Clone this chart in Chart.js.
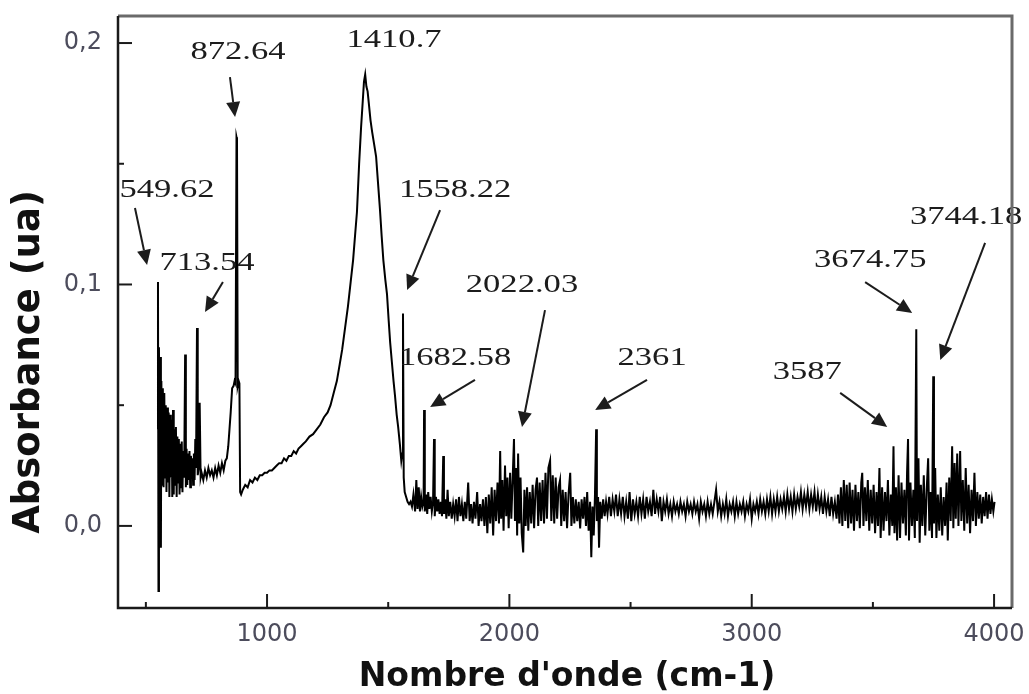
<!DOCTYPE html>
<html>
<head>
<meta charset="utf-8">
<script src="https://cdn.jsdelivr.net/npm/chart.js@4.4.1/dist/chart.umd.min.js"></script>
<style>
  html, body { margin: 0; padding: 0; background: #fff; }
  #wrap { width: 1029px; height: 694px; }
</style>
</head>
<body>
<div id="wrap"><canvas id="spectre" width="1029" height="694"></canvas></div>
<script>
// IR spectrum, wavenumber (cm-1) / absorbance (ua)
var wavenumber = [
  548, 550, 552, 554, 557, 560, 562, 564, 567, 570,
  573, 576, 579, 582, 585, 588, 591, 594, 597, 600,
  603, 606, 609, 612, 615, 618, 621, 624, 627, 630,
  633, 636, 639, 642, 645, 648, 651, 654, 658, 662,
  665, 668, 671, 674, 677, 680, 683, 686, 689, 692,
  695, 698, 701, 704, 707, 711, 714, 718, 722, 726,
  730, 737, 744, 751, 758, 765, 772, 779, 786, 793,
  800, 807, 814, 821, 828, 834, 840, 845, 850, 856,
  862, 866, 870, 874, 876, 879, 883, 886, 889, 893,
  900, 910, 920, 930, 940, 950, 960, 970, 980, 990,
  1000, 1010, 1020, 1030, 1040, 1050, 1060, 1070, 1080, 1090,
  1100, 1110, 1120, 1130, 1140, 1150, 1160, 1175, 1190, 1205,
  1220, 1235, 1250, 1262, 1275, 1288, 1300, 1310, 1322, 1334,
  1345, 1355, 1363, 1371, 1380, 1388, 1395, 1400, 1405, 1410,
  1415, 1420, 1427, 1434, 1442, 1450, 1458, 1466, 1473, 1480,
  1488, 1495, 1502, 1508, 1515, 1522, 1528, 1535, 1541, 1548,
  1554, 1558, 1561, 1564, 1568, 1574, 1580, 1586, 1592, 1598,
  1604, 1611, 1616, 1621, 1626, 1631, 1636, 1641, 1646, 1648,
  1651, 1656, 1661, 1665, 1670, 1675, 1680, 1685, 1689, 1692,
  1697, 1702, 1707, 1712, 1717, 1722, 1727, 1730, 1735, 1740,
  1745, 1750, 1756, 1762, 1768, 1774, 1780, 1786, 1792, 1798,
  1804, 1810, 1816, 1822, 1830, 1836, 1842, 1848, 1854, 1860,
  1867, 1873, 1879, 1885, 1891, 1897, 1903, 1909, 1915, 1921,
  1927, 1933, 1939, 1945, 1951, 1957, 1962, 1966, 1971, 1976,
  1982, 1987, 1992, 1997, 2003, 2008, 2013, 2019, 2023, 2028,
  2032, 2036, 2041, 2046, 2051, 2057, 2062, 2067, 2073, 2078,
  2084, 2090, 2096, 2102, 2108, 2114, 2119, 2125, 2131, 2137,
  2143, 2149, 2155, 2161, 2168, 2173, 2179, 2185, 2191, 2197,
  2203, 2209, 2214, 2220, 2226, 2232, 2238, 2244, 2251, 2256,
  2262, 2268, 2274, 2280, 2286, 2292, 2298, 2304, 2310, 2316,
  2321, 2327, 2333, 2338, 2343, 2348, 2353, 2358, 2361, 2366,
  2370, 2375, 2381, 2387, 2393, 2399,
  2405, 2412, 2419, 2426, 2433, 2440, 2447, 2454, 2461, 2468,
  2475, 2482, 2489, 2496, 2503, 2510, 2517, 2524, 2531, 2538,
  2545, 2552, 2559, 2566, 2573, 2580, 2587, 2594, 2601, 2608,
  2615, 2622, 2629, 2636, 2643, 2650, 2657, 2664, 2671, 2678,
  2685, 2692, 2699, 2706, 2713, 2720, 2727, 2734, 2741, 2748,
  2755, 2762, 2769, 2776, 2783, 2790, 2797, 2804, 2811, 2818,
  2825, 2832, 2839, 2846, 2853, 2860, 2867, 2874, 2881, 2888,
  2895, 2902, 2909, 2916, 2923, 2930, 2937, 2944, 2951, 2958,
  2965, 2972, 2979, 2986, 2993, 3000, 3007, 3014, 3021, 3028,
  3035, 3042, 3049, 3056, 3063, 3070, 3077, 3084, 3091, 3098,
  3105, 3112, 3119, 3126, 3133, 3140, 3147, 3154, 3161, 3168,
  3175, 3182, 3189, 3196, 3203, 3210, 3217, 3224, 3231, 3238,
  3245, 3252, 3259, 3266, 3273, 3280, 3287, 3294, 3301, 3308,
  3315, 3322, 3329, 3336, 3343,
  3350, 3356, 3362, 3368, 3374, 3380, 3386, 3392, 3398, 3404,
  3410, 3416, 3422, 3428, 3434, 3440, 3446, 3452, 3456, 3461,
  3467, 3473, 3479, 3485, 3491, 3497, 3503, 3509, 3515, 3521,
  3527, 3532, 3538, 3544, 3550, 3556, 3562, 3568, 3574, 3580,
  3585, 3589, 3595, 3600, 3606, 3612, 3618, 3624, 3630, 3636,
  3641, 3645, 3649, 3655, 3661, 3667, 3673, 3679, 3682, 3688,
  3693, 3698, 3704, 3710, 3716, 3722, 3728, 3733, 3738, 3744,
  3749, 3752, 3757, 3762, 3768, 3774, 3780, 3786, 3792, 3798,
  3804, 3809, 3815, 3821, 3827, 3832, 3837, 3842, 3848, 3853,
  3860, 3865, 3871, 3877, 3883, 3889, 3895, 3901, 3907, 3913,
  3919, 3925, 3931, 3937, 3943, 3949, 3955, 3961, 3967, 3973,
  3979, 3985, 3991, 3997, 4002
];

var absorbance = [
  0.040, 0.101, -0.027, 0.074, 0.022, 0.070, -0.009, 0.060, 0.017, 0.057,
  0.016, 0.055, 0.020, 0.050, 0.014, 0.049, 0.018, 0.047, 0.012, 0.046,
  0.020, 0.044, 0.012, 0.048, 0.013, 0.040, 0.017, 0.041, 0.012, 0.037,
  0.018, 0.036, 0.013, 0.034, 0.016, 0.035, 0.014, 0.031, 0.020, 0.071,
  0.016, 0.032, 0.017, 0.030, 0.019, 0.031, 0.016, 0.029, 0.020, 0.028,
  0.017, 0.030, 0.019, 0.036, 0.024, 0.082, 0.021, 0.024, 0.051, 0.020,
  0.022, 0.019, 0.023, 0.020, 0.024, 0.021, 0.023, 0.020, 0.024, 0.021,
  0.025, 0.022, 0.026, 0.023, 0.027, 0.028, 0.033, 0.040, 0.047, 0.057,
  0.058, 0.060, 0.059, 0.161, 0.160, 0.058, 0.060, 0.059, 0.014, 0.013,
  0.015, 0.017, 0.016, 0.019, 0.018, 0.020, 0.019, 0.021, 0.021, 0.022,
  0.022, 0.023, 0.023, 0.024, 0.025, 0.026, 0.026, 0.028, 0.027, 0.029,
  0.029, 0.031, 0.030, 0.032, 0.033, 0.034, 0.035, 0.037, 0.038, 0.040,
  0.042, 0.045, 0.047, 0.050, 0.055, 0.060, 0.067, 0.073, 0.082, 0.091,
  0.101, 0.110, 0.120, 0.130, 0.150, 0.165, 0.176, 0.184, 0.187, 0.182,
  0.180, 0.175, 0.168, 0.163, 0.158, 0.153, 0.142, 0.131, 0.120, 0.110,
  0.102, 0.096, 0.085, 0.076, 0.068, 0.060, 0.054, 0.046, 0.041, 0.034,
  0.027, 0.030, 0.088, 0.020, 0.014, 0.012, 0.010, 0.009, 0.010, 0.008,
  0.013, 0.006, 0.019, 0.007, 0.016, 0.006, 0.012, 0.008, 0.010, 0.048,
  0.006, 0.013, 0.005, 0.014, 0.007, 0.012, 0.006, 0.010, 0.036, 0.004,
  0.012, 0.006, 0.011, 0.005, 0.010, 0.004, 0.029, 0.005, 0.011, 0.003,
  0.015, 0.004, 0.010, 0.003, 0.009, 0.004, 0.011, 0.002, 0.012, 0.004,
  0.009, 0.002, 0.010, 0.003, 0.018, 0.002, 0.009, 0.001, 0.010, 0.003,
  0.014, 0.000, 0.009, 0.002, 0.011, 0.000, 0.012, -0.003, 0.013, 0.001,
  0.016, -0.004, 0.015, 0.002, 0.018, 0.001, 0.031, 0.003, 0.019, -0.002,
  0.025, 0.004, 0.020, -0.001, 0.022, 0.003, 0.018, 0.036, 0.002, 0.024,
  -0.004, 0.030, 0.001, 0.020, -0.003, -0.011, 0.015, 0.000, 0.016, -0.002,
  0.014, 0.001, 0.017, -0.001, 0.015, 0.020, 0.000, 0.018, 0.002, 0.019,
  0.001, 0.022, 0.003, 0.024, 0.027, 0.002, 0.021, 0.001, 0.020, 0.003,
  0.016, 0.019, 0.000, 0.015, 0.002, 0.014, -0.001, 0.013, 0.022, 0.000,
  0.012, 0.001, 0.011, 0.002, 0.010, -0.001, 0.011, 0.003, 0.012, 0.000,
  0.014, -0.002, 0.010, -0.013, 0.008, -0.004, 0.012, 0.040, 0.002, 0.012,
  -0.009, 0.010, 0.003, 0.011, 0.004, 0.010,
  0.005, 0.012, 0.004, 0.011, 0.006, 0.013, 0.004, 0.011, 0.005, 0.012,
  0.004, 0.010, 0.003, 0.014, 0.002, 0.011, 0.005, 0.010, 0.004, 0.012,
  0.005, 0.011, 0.003, 0.012, 0.006, 0.010, 0.004, 0.015, 0.005, 0.011,
  0.006, 0.012, 0.002, 0.010, 0.006, 0.011, 0.005, 0.009, 0.004, 0.010,
  0.006, 0.009, 0.005, 0.010, 0.006, 0.009, 0.004, 0.010, 0.006, 0.009,
  0.005, 0.010, 0.006, 0.009, 0.003, 0.010, 0.006, 0.009, 0.004, 0.010,
  0.005, 0.009, 0.005, 0.010, 0.015, 0.006, 0.010, 0.004, 0.009, 0.005,
  0.011, 0.004, 0.009, 0.006, 0.010, 0.004, 0.010, 0.005, 0.009, 0.006,
  0.010, 0.004, 0.009, 0.006, 0.011, 0.003, 0.009, 0.006, 0.010, 0.005,
  0.011, 0.006, 0.010, 0.005, 0.011, 0.006, 0.012, 0.005, 0.011, 0.006,
  0.012, 0.006, 0.011, 0.007, 0.012, 0.006, 0.013, 0.007, 0.012, 0.006,
  0.013, 0.007, 0.012, 0.008, 0.014, 0.007, 0.013, 0.008, 0.014, 0.007,
  0.013, 0.008, 0.014, 0.006, 0.013, 0.007, 0.012, 0.005, 0.012, 0.006,
  0.011, 0.004, 0.012, 0.005, 0.010,
  0.003, 0.013, 0.001, 0.016, 0.000, 0.019, 0.002, 0.017, -0.001, 0.018,
  0.001, 0.015, -0.002, 0.017, 0.002, 0.014, -0.001, 0.018, 0.022, 0.000,
  0.016, 0.002, 0.019, -0.002, 0.015, 0.001, 0.017, -0.003, 0.014, 0.000,
  0.024, -0.005, 0.016, -0.002, 0.014, 0.002, 0.019, -0.004, 0.013, 0.000,
  0.033, -0.003, 0.016, -0.006, 0.021, -0.005, 0.018, 0.001, 0.015, -0.004,
  0.022, 0.036, -0.006, 0.018, 0.000, 0.015, -0.005, 0.0815, 0.002, 0.028,
  -0.007, 0.017, 0.000, 0.021, -0.004, 0.015, 0.028, -0.002, 0.014, -0.005,
  0.062, 0.001, 0.024, -0.005, 0.013, -0.002, 0.016, -0.004, 0.012, 0.000,
  0.018, -0.006, 0.020, 0.002, 0.033, -0.001, 0.026, 0.003, 0.030, 0.000,
  0.031, 0.002, 0.019, -0.002, 0.024, 0.001, 0.017, -0.003, 0.015, 0.002,
  0.022, 0.000, 0.014, 0.003, 0.013, 0.001, 0.012, 0.004, 0.014, 0.003,
  0.013, 0.005, 0.011, 0.006, 0.010
];

var xMajor = [1000, 2000, 3000, 4000];
var xMinor = [500, 1500, 2500, 3500];
var yMajor = [0, 0.1, 0.2];
var yMinor = [0.05, 0.15];

// peak labels: text centre, arrow tail, arrow tip (data units)
var peakNotes = [
  { text: '549.62',  at: [587, 0.1391],  tail: [455, 0.1317],  tip: [505, 0.1081] },
  { text: '713.54',  at: [752, 0.1089],  tail: [818, 0.1010],  tip: [744, 0.0886] },
  { text: '872.64',  at: [880, 0.1963],  tail: [847, 0.1859],  tip: [868, 0.1694] },
  { text: '1410.7',  at: [1524, 0.2012] },
  { text: '1558.22', at: [1776, 0.1391], tail: [1714, 0.1308], tip: [1578, 0.0977] },
  { text: '1682.58', at: [1776, 0.0696], tail: [1858, 0.0605], tip: [1673, 0.0493] },
  { text: '2022.03', at: [2052, 0.0998], tail: [2147, 0.0894], tip: [2052, 0.0410] },
  { text: '2361',    at: [2589, 0.0696], tail: [2568, 0.0605], tip: [2354, 0.0480] },
  { text: '3587',    at: [3229, 0.0638], tail: [3365, 0.0551], tip: [3559, 0.0410] },
  { text: '3674.75', at: [3489, 0.1101], tail: [3468, 0.1010], tip: [3662, 0.0882] },
  { text: '3744.18', at: [3885, 0.1280], tail: [3963, 0.1172], tip: [3778, 0.0687] }
];

if (wavenumber.length !== absorbance.length) {
  console.error('length mismatch', wavenumber.length, absorbance.length);
}

function drawArrow(ctx, x0, y0, x1, y1) {
  var ang = Math.atan2(y1 - y0, x1 - x0);
  var head = 15, half = 7;
  var bx = x1 - head * Math.cos(ang), by = y1 - head * Math.sin(ang);
  ctx.beginPath();
  ctx.moveTo(x0, y0);
  ctx.lineTo(bx, by);
  ctx.stroke();
  ctx.beginPath();
  ctx.moveTo(x1, y1);
  ctx.lineTo(bx + half * Math.sin(ang), by - half * Math.cos(ang));
  ctx.lineTo(bx - half * Math.sin(ang), by + half * Math.cos(ang));
  ctx.closePath();
  ctx.fill();
}

var overlay = {
  id: 'overlay',
  afterDatasetsDraw: function (chart) {
    var ctx = chart.ctx, a = chart.chartArea;
    var x = chart.scales.x, y = chart.scales.y;
    ctx.save();

    //peak labels
    ctx.fillStyle = '#1c1c1c';
    ctx.strokeStyle = '#1c1c1c';
    ctx.lineWidth = 2;
    ctx.font = '26px "Liberation Serif", "Times New Roman", serif';
    ctx.textAlign = 'center';
    ctx.textBaseline = 'middle';
    peakNotes.forEach(function (n) {
      ctx.save();
      ctx.translate(x.getPixelForValue(n.at[0]), y.getPixelForValue(n.at[1]));
      ctx.scale(1.33, 1);
      ctx.fillText(n.text, 0, 0);
      ctx.restore();
      if (n.tail) {
        drawArrow(ctx,
          x.getPixelForValue(n.tail[0]), y.getPixelForValue(n.tail[1]),
          x.getPixelForValue(n.tip[0]), y.getPixelForValue(n.tip[1]));
      }
    });

    //frame
    ctx.lineWidth = 3;
    ctx.strokeStyle = '#6a6a6a';
    ctx.beginPath();
    ctx.moveTo(a.left, a.top);
    ctx.lineTo(a.right, a.top);
    ctx.lineTo(a.right, a.bottom);
    ctx.stroke();
    ctx.strokeStyle = '#1a1a1a';
    ctx.lineWidth = 2.5;
    ctx.beginPath();
    ctx.moveTo(a.left, a.top);
    ctx.lineTo(a.left, a.bottom);
    ctx.lineTo(a.right, a.bottom);
    ctx.stroke();

    //inward ticks
    ctx.lineWidth = 2;
    xMajor.concat(xMinor).forEach(function (v) {
      var px = x.getPixelForValue(v), len = xMajor.indexOf(v) >= 0 ? 14 : 6;
      ctx.beginPath();
      ctx.moveTo(px, a.bottom);
      ctx.lineTo(px, a.bottom - len);
      ctx.stroke();
    });
    yMajor.concat(yMinor).forEach(function (v) {
      var py = y.getPixelForValue(v), len = yMajor.indexOf(v) >= 0 ? 14 : 6;
      ctx.beginPath();
      ctx.moveTo(a.left, py);
      ctx.lineTo(a.left + len, py);
      ctx.stroke();
    });

    //axis titles
    ctx.fillStyle = '#111';
    ctx.font = 'bold 33px "DejaVu Sans", sans-serif';
    ctx.fillText("Nombre d'onde (cm-1)", (a.left + a.right) / 2 + 2, 677);
    ctx.save();
    ctx.translate(29, 362);
    ctx.rotate(-Math.PI / 2);
    ctx.font = 'bold 37px "DejaVu Sans", sans-serif';
    ctx.fillText('Absorbance (ua)', 0, 0);
    ctx.restore();

    ctx.restore();
  }
};

var points = wavenumber.map(function (w, i) {
  return {x: w, y: absorbance[i]};
});

var tickFont = {family: '"DejaVu Sans", sans-serif', size: 24};

var chart = new Chart(document.getElementById('spectre'), {
  type: 'line',
  data: {
    datasets: [{
      data: points,
      borderColor: '#000',
      borderWidth: 2,
      pointRadius: 0,
      tension: 0,
      fill: false
    }]
  },
  options: {
    responsive: false,
    animation: false,
    devicePixelRatio: 1,
    layout: {padding: {top: 16, right: 17, left: 0, bottom: 0}},
    plugins: {legend: {display: false}, tooltip: {enabled: false}},
    scales: {
      x: {
        type: 'linear',
        min: 385,
        max: 4074,
        afterBuildTicks: function (s) {
          s.ticks = xMajor.map(function (v) { return {value: v}; });
        },
        afterFit: function (s) {
          s.height = 86;
          s.paddingLeft = 0;
          s.paddingRight = 0;
        },
        grid: {display: false, drawTicks: false},
        border: {display: false},
        ticks: {
          padding: 12,
          color: '#4c4c5c',
          font: tickFont,
          maxRotation: 0,
          autoSkip: false,
          callback: function (v) { return String(v); }
        }
      },
      y: {
        min: -0.034,
        max: 0.2112,
        afterBuildTicks: function (s) {
          s.ticks = yMajor.map(function (v) { return {value: v}; });
        },
        afterFit: function (s) {
          s.width = 118;
          s.paddingTop = 0;
          s.paddingBottom = 0;
        },
        grid: {display: false, drawTicks: false},
        border: {display: false},
        ticks: {
          padding: 16,
          color: '#4c4c5c',
          font: tickFont,
          callback: function (v) { return v.toFixed(1).replace('.', ','); }
        }
      }
    }
  },
  plugins: [overlay]
});
</script>
</body>
</html>
